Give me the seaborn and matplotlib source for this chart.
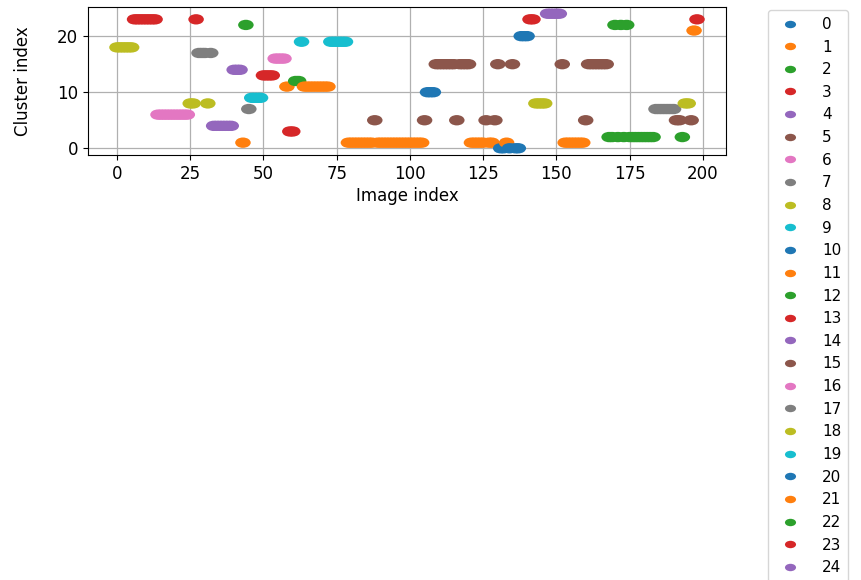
import matplotlib
matplotlib.use("Agg")
import matplotlib.pyplot as plt
import seaborn as sns
import pandas as pd
from matplotlib.path import Path
from matplotlib.transforms import Affine2D

# cluster assigned to each image (image index = position in list)
cluster_of_image = [
    18, 18, 18, 18, 18, 18, 23, 23, 23, 23,
    23, 23, 23, 23, 6, 6, 6, 6, 6, 6,
    6, 6, 6, 6, 6, 8, 8, 23, 17, 17,
    17, 8, 17, 4, 4, 4, 4, 4, 4, 4,
    14, 14, 14, 1, 22, 7, 9, 9, 9, 9,
    13, 13, 13, 13, 16, 16, 16, 16, 11, 3,
    3, 12, 12, 19, 11, 11, 11, 11, 11, 11,
    11, 11, 11, 19, 19, 19, 19, 19, 19, 1,
    1, 1, 1, 1, 1, 1, 1, 1, 5, 1,
    1, 1, 1, 1, 1, 1, 1, 1, 1, 1,
    1, 1, 1, 1, 1, 5, 10, 10, 10, 15,
    15, 15, 15, 15, 15, 15, 5, 15, 15, 15,
    15, 1, 1, 1, 1, 1, 5, 1, 1, 5,
    15, 0, 0, 1, 0, 15, 0, 0, 20, 20,
    20, 23, 23, 8, 8, 8, 8, 24, 24, 24,
    24, 24, 15, 1, 1, 1, 1, 1, 1, 1,
    5, 15, 15, 15, 15, 15, 15, 15, 2, 2,
    22, 2, 22, 2, 22, 2, 2, 2, 2, 2,
    2, 2, 2, 2, 7, 7, 7, 7, 7, 7,
    7, 5, 5, 2, 8, 8, 5, 21, 23,
]
cluster_levels = list(range(25))

df = pd.DataFrame({
    "Image index": range(len(cluster_of_image)),
    "Cluster index": cluster_of_image,
})

base = sns.color_palette("tab10")
palette = {k: base[k % 10] for k in cluster_levels}

# slightly wide elliptical marker (reference is horizontally stretched)
ellipse = Affine2D().scale(1.0, 1 / 1.5).transform_path(Path.unit_circle())

fig = plt.figure(figsize=(8.61, 5.8), dpi=100)
ax = fig.add_axes([88 / 861, 1 - 155 / 580, (726 - 88) / 861, (155 - 7) / 580])

sns.scatterplot(data=df, x="Image index", y="Cluster index", hue="Cluster index",
                hue_order=cluster_levels, palette=palette, marker=ellipse, s=125,
                linewidth=0, legend="full", ax=ax)

ax.grid(True, color="#b0b0b0", linewidth=0.9)
ax.set_axisbelow(True)
ax.set_xticks([0, 25, 50, 75, 100, 125, 150, 175, 200])
ax.set_yticks([0, 10, 20])
ax.tick_params(labelsize=12)
ax.set_xlabel("Image index", fontsize=12, labelpad=3)
ax.set_ylabel("Cluster index", fontsize=12, labelpad=18)
for sp in ax.spines.values():
    sp.set_color("black")

sns.move_legend(ax, "upper left", bbox_to_anchor=(768 / 861, 1 - 10 / 580),
                bbox_transform=fig.transFigure, borderaxespad=0, title=None,
                frameon=True, fontsize=11, labelspacing=0.5, handletextpad=1.1,
                borderpad=0.45)
leg = ax.get_legend()
for h in leg.legend_handles:
    h.set_markersize(8)
    h.set_markeredgewidth(0)

fig.savefig("out.png", dpi=100)
